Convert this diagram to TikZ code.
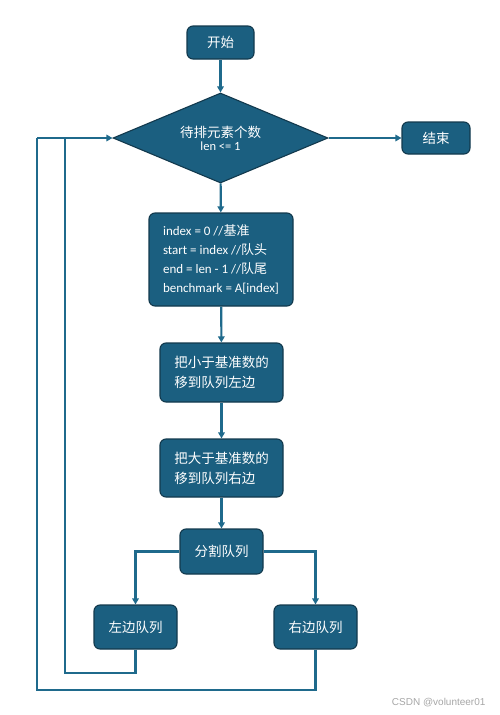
\documentclass[tikz,border=0pt]{standalone}
\usepackage{fontspec}
\setmainfont{Carlito}
\newfontfamily\cjk{Noto Sans CJK SC}
\newfontfamily\wm{Liberation Sans}
\usetikzlibrary{shapes.geometric,arrows.meta}
\definecolor{boxfill}{HTML}{1B5F80}
\definecolor{boxedge}{HTML}{12394D}
\definecolor{linec}{HTML}{1F6A8C}
\tikzset{
  proc/.style={draw=boxedge, fill=boxfill, line width=1.1pt, rounded corners=6pt, text=white, inner sep=0pt, font=\fontsize{13.5}{20}\selectfont\cjk, align=left},
  decide/.style={draw=boxedge, fill=boxfill, line width=1.1pt, diamond, aspect=2.39, minimum width=215pt, minimum height=90pt, inner sep=0pt, text=white, align=center},
  conn/.style={draw=linec, line width=2.1pt},
  arr/.style={conn, -{Triangle[length=6pt,width=6.5pt]}}
}
\begin{document}
\begin{tikzpicture}[x=1pt,y=-1pt]
\useasboundingbox (0,0) rectangle (500,715);
\node[proc, minimum width=67pt, minimum height=33pt] (start) at (220.5,42.5) {开始};
\node[decide] (cond) at (220.5,138) {{\fontsize{13.5}{16}\selectfont\cjk 待排元素个数}\\[1pt]{\fontsize{12.5}{14}\selectfont len <= 1}};
\node[proc, minimum width=68pt, minimum height=32pt] (end) at (436,138) {结束};
\node[proc, minimum width=144pt, minimum height=93pt, font=\fontsize{13}{19}\selectfont] (init) at (221,259.5) {index = 0 //{\cjk 基准}\\start = index //{\cjk 队头}\\end = len - 1 //{\cjk 队尾}\\benchmark = A[index]};
\node[proc, minimum width=123pt, minimum height=59pt] (small) at (221.5,372.5) {把小于基准数的\\移到队列左边};
\node[proc, minimum width=123pt, minimum height=58pt] (big) at (221.5,468) {把大于基准数的\\移到队列右边};
\node[proc, minimum width=83pt, minimum height=45pt] (split) at (221.5,551.5) {分割队列};
\node[proc, minimum width=83pt, minimum height=44pt] (left) at (135.5,627) {左边队列};
\node[proc, minimum width=83pt, minimum height=44pt] (right) at (315.5,627) {右边队列};
\node[text=black!35, font=\fontsize{10}{12}\selectfont\wm, anchor=east] (wmk) at (489,703) {CSDN @volunteer01};
\coordinate (li) at (65,138);
\coordinate (lo) at (37,138);
\draw[arr] (start) -- (cond);
\draw[arr] (cond) -- (end);
\draw[arr] (cond) -- (init);
\draw[arr] (init) -- (small);
\draw[arr] (small) -- (big);
\draw[arr] (big) -- (split);
\draw[arr] (split.west) -| (left.north);
\draw[arr] (split.east) -| (right.north);
\draw[conn] (left.south) -- ++(0,23) -| (li);
\draw[conn] (right.south) -- ++(0,40) -| (lo);
\draw[arr] (lo) -- (cond.west);
\end{tikzpicture}
\end{document}
